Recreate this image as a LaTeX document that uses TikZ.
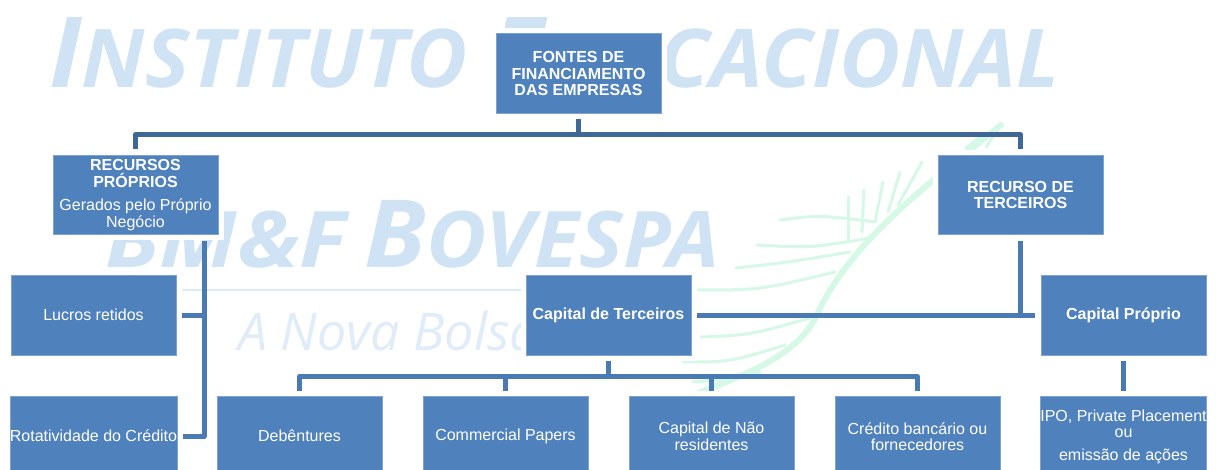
\documentclass[tikz,border=0pt]{standalone}
\usepackage{fontspec}
\setmainfont{Liberation Sans}
\newfontfamily\wmfont{Open Sans}
\definecolor{boxblue}{HTML}{4F81BD}
\definecolor{boxedge}{HTML}{7FA3D0}
\definecolor{conndark}{HTML}{3F6797}
\definecolor{connmid}{HTML}{4A7AB3}
\definecolor{wmblue}{HTML}{CFE3F5}
\definecolor{wmpale}{HTML}{E0EDF9}
\definecolor{wmgreen}{HTML}{D6F8E6}
\tikzset{
  fbox/.style={draw=boxedge,line width=0.6pt,fill=boxblue,minimum width=165pt,minimum height=79.5pt,
    inner sep=0pt,align=center,text=white,font=\fontsize{16}{16.5}\selectfont,
    preaction={draw=white,line width=11pt}},
  topconn/.style={draw=conndark,line width=5pt,line join=round},
  midconn/.style={draw=connmid,line width=5pt,line join=round},
  gendconn/.style={shorten <=5.5pt,shorten >=5.5pt},
  wmark/.style={inner sep=0pt,text=wmblue,anchor=base west},
  swoosh/.style={draw=wmgreen,line width=3pt,line cap=round},
}
\begin{document}
\begin{tikzpicture}[x=1pt,y=-1pt]
\useasboundingbox (0,0) rectangle (1216,470);
\clip (0,0) rectangle (1216,470);
\fill[white] (0,0) rectangle (1216,470);
% watermark
\node[wmark] (wmA) at (49,88)
  {\scalebox{1.035}[1]{\wmfont\bfseries\itshape\fontsize{98}{98}\selectfont I\fontsize{81}{81}\selectfont NSTITUTO \fontsize{98}{98}\selectfont E\fontsize{81}{81}\selectfont DUCACIONAL}};
\node[wmark] (wmB) at (105,268)
  {\wmfont\bfseries\itshape\scalebox{1.13}[1]{\fontsize{78}{78}\selectfont BM\&F}\hspace{18pt}\scalebox{1.06}[1]{\fontsize{94}{94}\selectfont B\fontsize{78}{78}\selectfont OVESPA}};
\node[wmark,text=wmpale] (wmC) at (238,351)
  {\wmfont\itshape\fontsize{52}{52}\selectfont A Nova Bolsa};
\draw[wmblue!75,line width=2.5pt] (181,290) -- (708,290);
% green swoosh
\draw[swoosh,line width=6pt] (1001,125) .. controls (940,175) and (850,240) .. (817,315) .. controls (800,350) and (760,370) .. (700,392);
\foreach \a/\b/\c/\d in {848/197/848/240, 864/190/862/232, 883/182/875/222, 900/172/888/212, 922/162/898/205, 986/147/1001/125, 966/148/980/137}
  \draw[swoosh] (\a,\b) -- (\c,\d);
\foreach \a/\b/\c/\d/\e/\f in {
  780/220/820/215/875/222,
  757/245/810/248/870/238,
  736/268/790/262/850/252,
  697/290/760/290/835/272,
  701/337/750/335/810/318,
  683/362/730/362/785/345,
  693/382/720/380/760/372}
  \draw[swoosh] (\a,\b) .. controls (\c,\d) .. (\e,\f);
% boxes
\node[fbox] (top) at (578.5,73.5) {\textbf{FONTES DE}\\\textbf{FINANCIAMENTO}\\\textbf{DAS EMPRESAS}};
\node[fbox] (rec) at (135.5,195) {\textbf{RECURSOS}\\\textbf{PRÓPRIOS}\\[7pt]Gerados pelo Próprio\\Negócio};
\node[fbox] (ter) at (1020.5,195) {\textbf{RECURSO DE}\\\textbf{TERCEIROS}};
\node[fbox] (luc) at (93.5,315.5) {\raisebox{1pt}{Lucros retidos}};
\node[fbox] (capt) at (608.5,315.5) {\raisebox{1pt}{\textbf{Capital de Terceiros}}};
\node[fbox] (capp) at (1123.5,315.5) {\raisebox{1pt}{\textbf{Capital Próprio}}};
\node[fbox] (rot) at (93.5,436.5) {\raisebox{1pt}{Rotatividade do Crédito}};
\node[fbox] (deb) at (299.5,436.5) {\raisebox{1pt}{Debêntures}};
\node[fbox] (com) at (505.5,436.5) {\raisebox{1pt}{Commercial Papers}};
\node[fbox] (nao) at (711.5,436.5) {Capital de Não\\residentes};
\node[fbox] (cre) at (917.5,436.5) {Crédito bancário ou\\fornecedores};
\node[fbox] (ipo) at (1123.5,436.5) {IPO, Private Placement\\ou\\[6pt]emissão de ações};
% junctions
\coordinate (busT) at (578.5,134.5);
\coordinate (busB) at (608.5,376.5);
\coordinate (busL) at (204,315.5);
% connectors
\draw[topconn,gendconn] (top.south) -- (busT) -| (rec.north);
\draw[topconn,shorten >=5.5pt] (busT) -| (ter.north);
\draw[midconn,gendconn] (rot.east) -| (rec.south -| busL);
\draw[midconn,shorten <=5.5pt] (luc.east) -- (busL);
\draw[midconn,gendconn] (capt.east) -- (capp.west);
\draw[midconn,shorten <=5.5pt] (ter.south) -- (ter.south |- capt.east);
\draw[midconn,gendconn] (capt.south) -- (busB) -| (deb.north);
\draw[midconn,shorten >=5.5pt] (busB) -| (com.north);
\draw[midconn,shorten >=5.5pt] (busB) -| (nao.north);
\draw[midconn,shorten >=5.5pt] (busB) -| (cre.north);
\draw[midconn,gendconn] (capp.south) -- (ipo.north);
\end{tikzpicture}
\end{document}
